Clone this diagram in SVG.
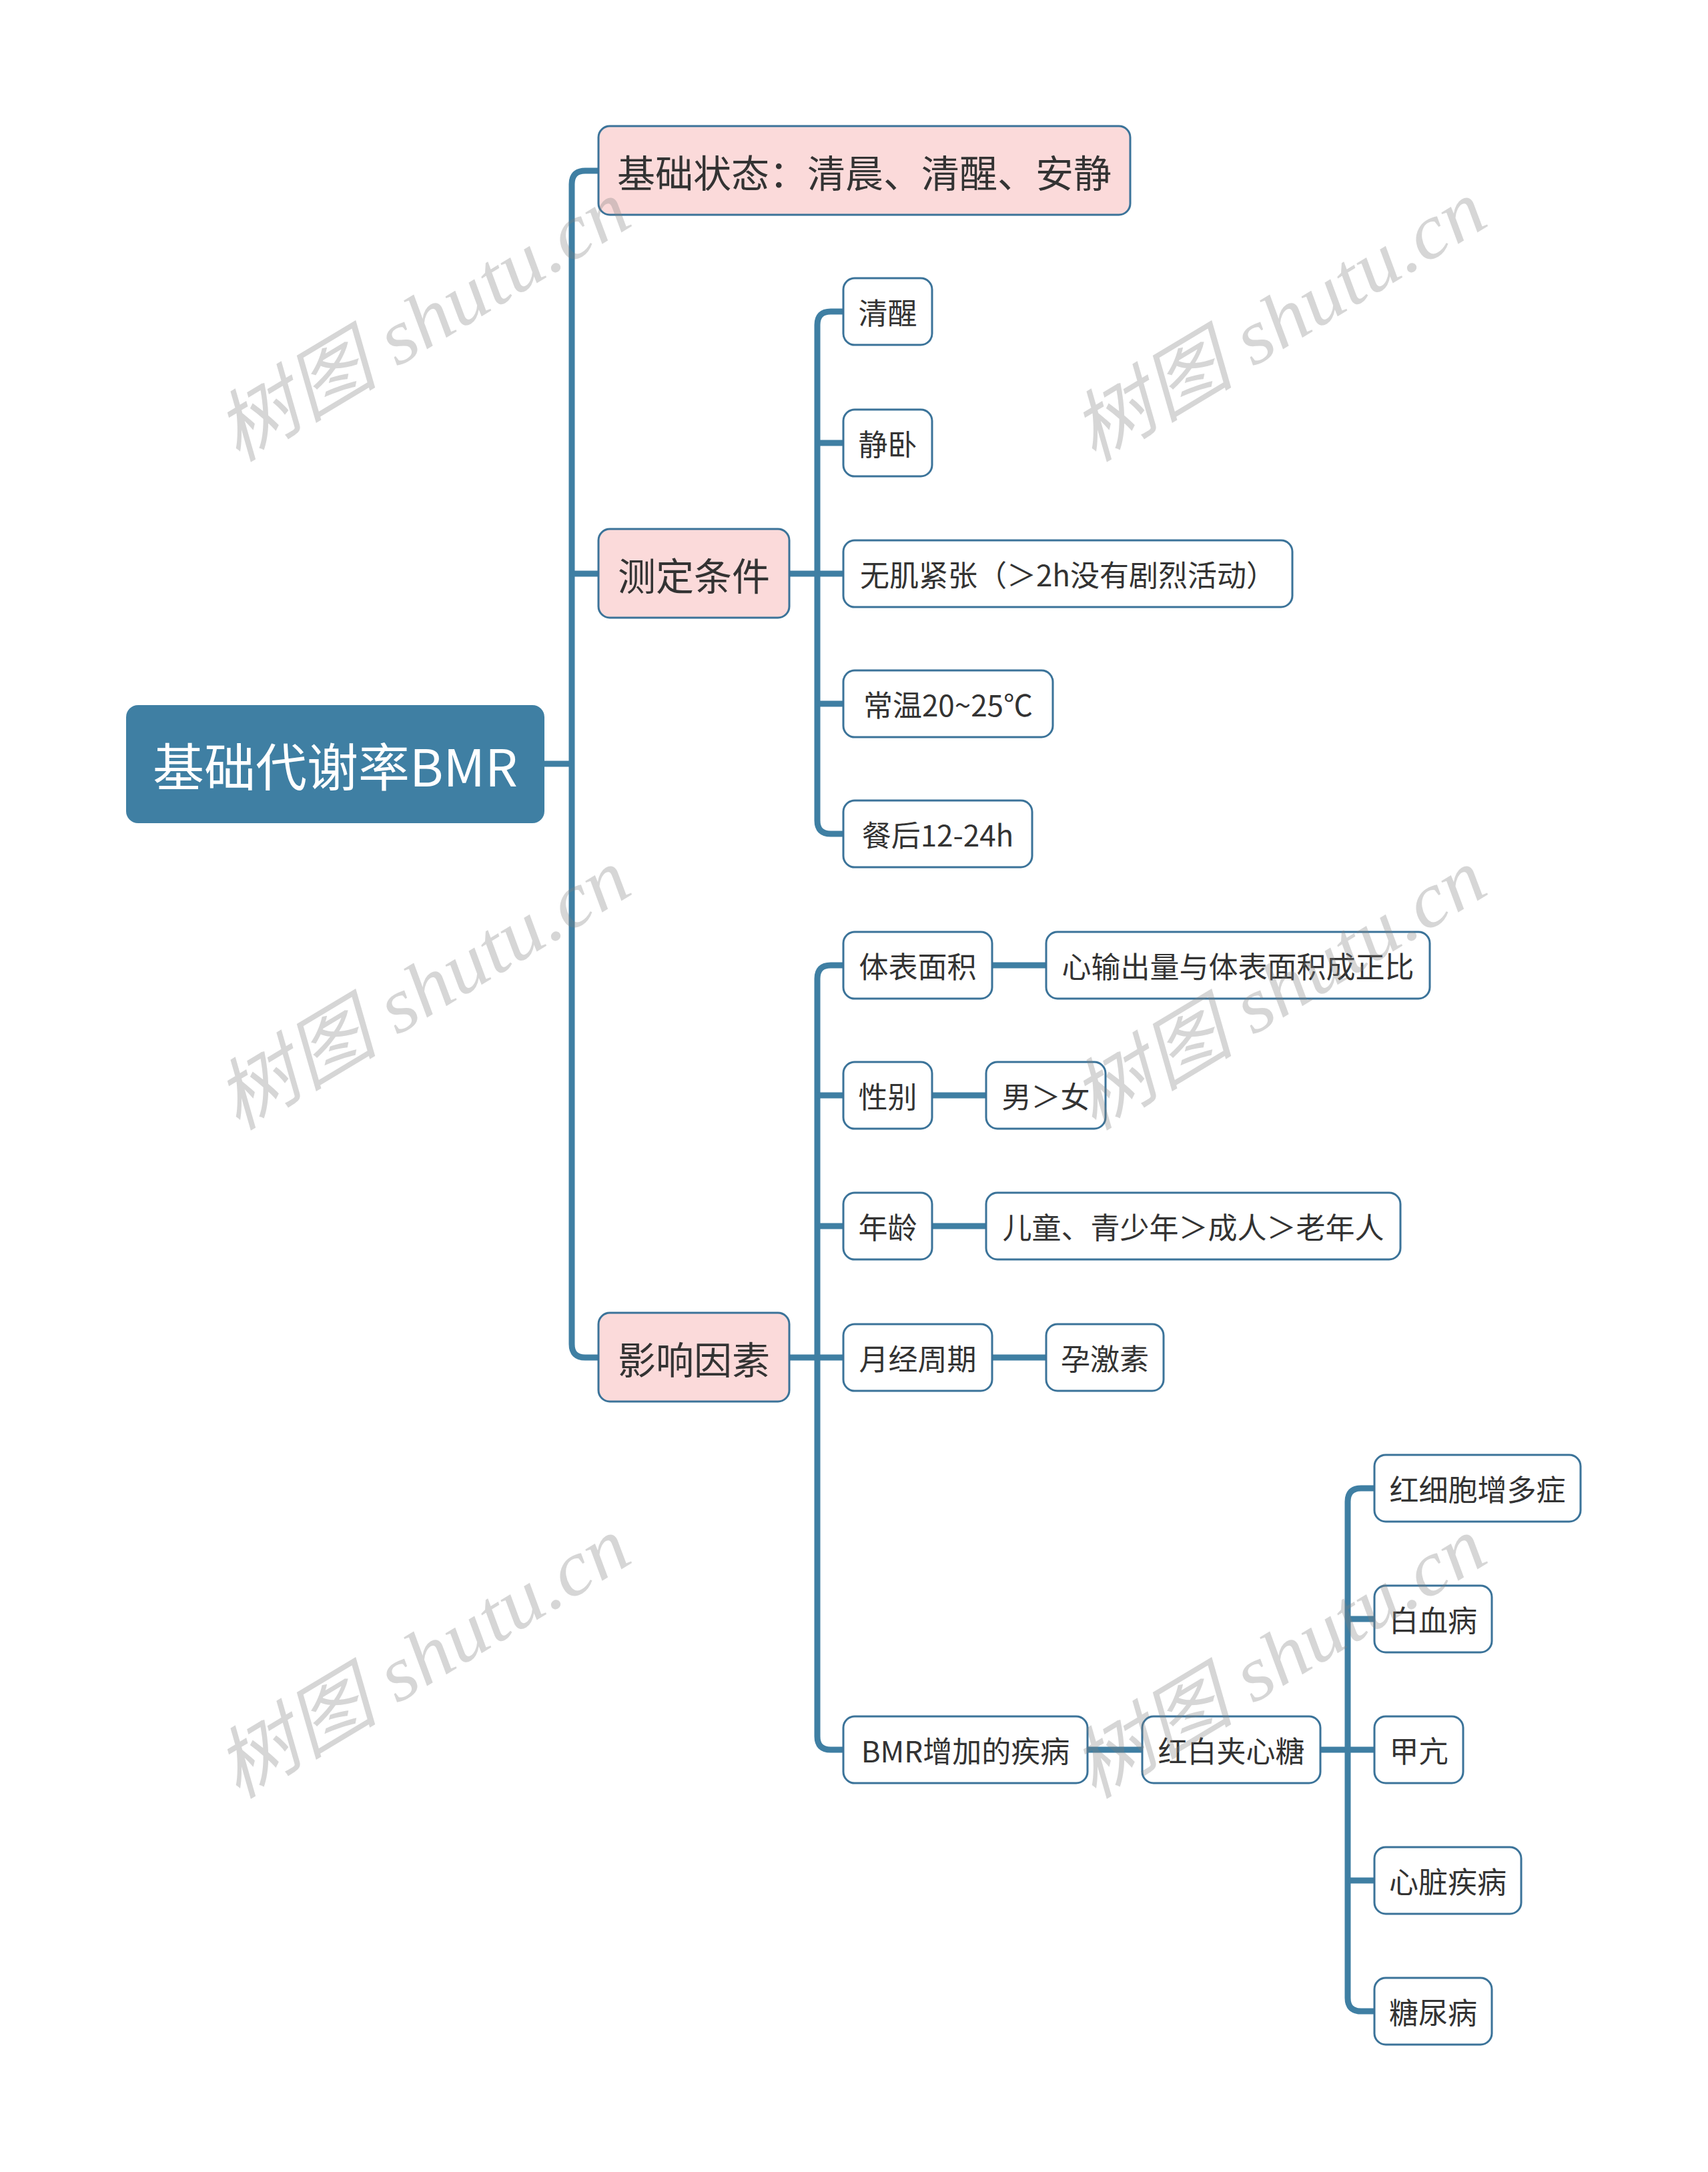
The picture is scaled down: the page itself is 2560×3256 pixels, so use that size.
<svg xmlns="http://www.w3.org/2000/svg" width="2560" height="3256" viewBox="0 0 2560 3256">
<style>
.ln{fill:none;stroke:#3f7fa3;stroke-width:9;stroke-linecap:butt;stroke-linejoin:round}
.root rect{fill:#3f7fa3}
.root text{fill:#ffffff;font-size:77px}
.l1 rect{fill:#fbdada;stroke:#3b7399;stroke-width:3}
.l1 text{fill:#333333;font-size:57px}
.l2 rect{fill:#ffffff;stroke:#3b7399;stroke-width:3}
.l2 text{fill:#333333;font-size:44px}
text{font-family:"Noto Sans CJK SC","Noto Sans",sans-serif;text-anchor:middle;dominant-baseline:central}
.wm text{font-family:"Liberation Serif","Noto Sans CJK SC",serif;font-style:italic;font-size:116px;fill:#808080;fill-opacity:0.32;text-anchor:start;dominant-baseline:alphabetic}
</style>
<rect x="0" y="0" width="2560" height="3256" fill="#ffffff"/>
<g id="connectors">
<path class="ln" d="M816 1145H857"/>
<path class="ln" d="M897 256H877Q857 256 857 276V2015Q857 2035 877 2035H897"/>
<path class="ln" d="M857 860H897"/>
<path class="ln" d="M1183 860H1264"/>
<path class="ln" d="M1264 467H1245Q1225 467 1225 487V1230Q1225 1250 1245 1250H1264"/>
<path class="ln" d="M1225 664H1264"/>
<path class="ln" d="M1225 1055H1264"/>
<path class="ln" d="M1183 2035H1264"/>
<path class="ln" d="M1264 1447H1245Q1225 1447 1225 1467V2603Q1225 2623 1245 2623H1264"/>
<path class="ln" d="M1225 1642H1264"/>
<path class="ln" d="M1225 1838H1264"/>
<path class="ln" d="M1487 1447H1568"/>
<path class="ln" d="M1397 1642H1478"/>
<path class="ln" d="M1397 1838H1478"/>
<path class="ln" d="M1487 2035H1568"/>
<path class="ln" d="M1630 2623H1712"/>
<path class="ln" d="M1979 2623H2060"/>
<path class="ln" d="M2060 2231H2040Q2020 2231 2020 2251V2995Q2020 3015 2040 3015H2060"/>
<path class="ln" d="M2020 2427H2060"/>
<path class="ln" d="M2020 2819H2060"/>
</g>
<g id="root" class="root"><rect x="189" y="1057" width="627" height="177" rx="18"/><text x="502.5" y="1145">基础代谢率BMR</text></g>
<g id="n-jichu" class="l1"><rect x="897" y="189" width="797" height="133" rx="17"/><text x="1295.5" y="255.5">基础状态：清晨、清醒、安静</text></g>
<g id="n-ceding" class="l1"><rect x="897" y="793" width="286" height="133" rx="17"/><text x="1040" y="859.5">测定条件</text></g>
<g id="n-yingxiang" class="l1"><rect x="897" y="1968" width="286" height="133" rx="17"/><text x="1040" y="2034.5">影响因素</text></g>
<g id="n-qingxing" class="l2"><rect x="1264" y="417" width="133" height="100" rx="17"/><text x="1330.5" y="467">清醒</text></g>
<g id="n-jingwo" class="l2"><rect x="1264" y="614" width="133" height="100" rx="17"/><text x="1330.5" y="664">静卧</text></g>
<g id="n-wuji" class="l2"><rect x="1264" y="810" width="673" height="100" rx="17"/><text x="1600.5" y="860">无肌紧张（＞2h没有剧烈活动）</text></g>
<g id="n-changwen" class="l2"><rect x="1264" y="1005" width="314" height="100" rx="17"/><text x="1421" y="1055">常温20~25℃</text></g>
<g id="n-canhou" class="l2"><rect x="1264" y="1200" width="283" height="100" rx="17"/><text x="1405.5" y="1250">餐后12-24h</text></g>
<g id="n-tibiao" class="l2"><rect x="1264" y="1397" width="223" height="100" rx="17"/><text x="1375.5" y="1447">体表面积</text></g>
<g id="n-xinshu" class="l2"><rect x="1568" y="1397" width="575" height="100" rx="17"/><text x="1855.5" y="1447">心输出量与体表面积成正比</text></g>
<g id="n-xingbie" class="l2"><rect x="1264" y="1592" width="133" height="100" rx="17"/><text x="1330.5" y="1642">性别</text></g>
<g id="n-nannv" class="l2"><rect x="1478" y="1592" width="179" height="100" rx="17"/><text x="1567.5" y="1642">男＞女</text></g>
<g id="n-nianling" class="l2"><rect x="1264" y="1788" width="133" height="100" rx="17"/><text x="1330.5" y="1838">年龄</text></g>
<g id="n-ertong" class="l2"><rect x="1478" y="1788" width="621" height="100" rx="17"/><text x="1788.5" y="1838">儿童、青少年＞成人＞老年人</text></g>
<g id="n-yuejing" class="l2"><rect x="1264" y="1985" width="223" height="100" rx="17"/><text x="1375.5" y="2035">月经周期</text></g>
<g id="n-yunjisu" class="l2"><rect x="1568" y="1985" width="176" height="100" rx="17"/><text x="1656" y="2035">孕激素</text></g>
<g id="n-bmr" class="l2"><rect x="1264" y="2573" width="366" height="100" rx="17"/><text x="1447" y="2623">BMR增加的疾病</text></g>
<g id="n-hongbai" class="l2"><rect x="1712" y="2573" width="267" height="100" rx="17"/><text x="1845.5" y="2623">红白夹心糖</text></g>
<g id="n-hongxibao" class="l2"><rect x="2060" y="2181" width="309" height="100" rx="17"/><text x="2214.5" y="2231">红细胞增多症</text></g>
<g id="n-baixue" class="l2"><rect x="2060" y="2377" width="176" height="100" rx="17"/><text x="2148" y="2427">白血病</text></g>
<g id="n-jiakang" class="l2"><rect x="2060" y="2573" width="133" height="100" rx="17"/><text x="2126.5" y="2623">甲亢</text></g>
<g id="n-xinzang" class="l2"><rect x="2060" y="2769" width="220" height="100" rx="17"/><text x="2170" y="2819">心脏疾病</text></g>
<g id="n-tangniao" class="l2"><rect x="2060" y="2965" width="176" height="100" rx="17"/><text x="2148" y="3015">糖尿病</text></g>
<g id="watermarks" class="wm">
<text transform="translate(356 694) rotate(-31)" textLength="695" lengthAdjust="spacingAndGlyphs">树图 shutu.cn</text>
<text transform="translate(1639 694) rotate(-31)" textLength="695" lengthAdjust="spacingAndGlyphs">树图 shutu.cn</text>
<text transform="translate(356 1696) rotate(-31)" textLength="695" lengthAdjust="spacingAndGlyphs">树图 shutu.cn</text>
<text transform="translate(1639 1696) rotate(-31)" textLength="695" lengthAdjust="spacingAndGlyphs">树图 shutu.cn</text>
<text transform="translate(356 2698) rotate(-31)" textLength="695" lengthAdjust="spacingAndGlyphs">树图 shutu.cn</text>
<text transform="translate(1639 2698) rotate(-31)" textLength="695" lengthAdjust="spacingAndGlyphs">树图 shutu.cn</text>
</g>
</svg>
